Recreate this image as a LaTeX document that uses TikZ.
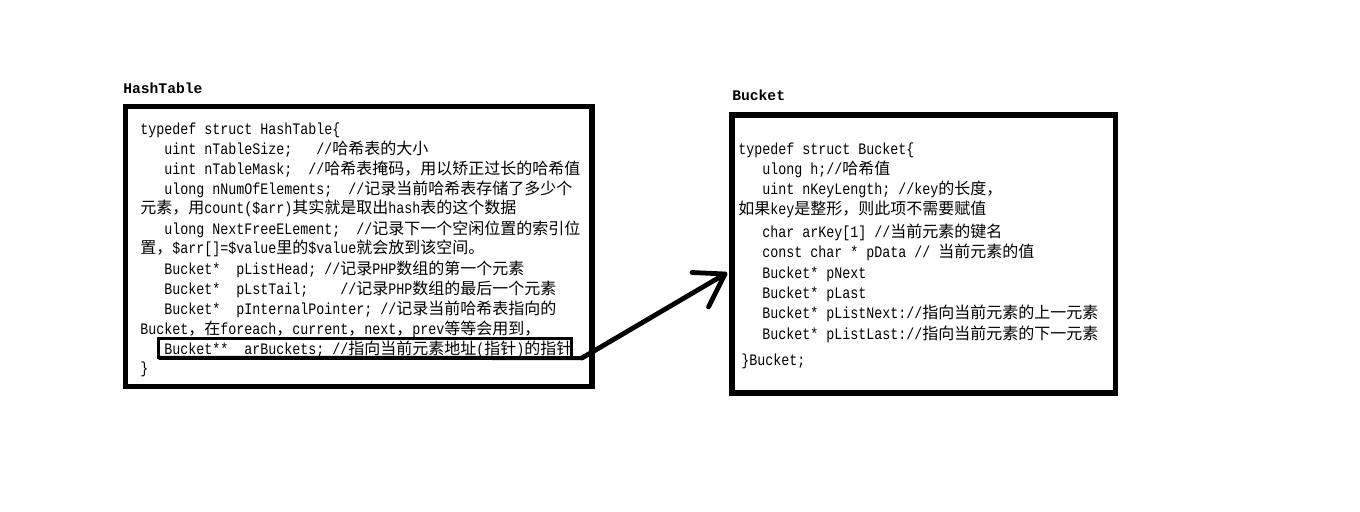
\documentclass[tikz,border=0pt]{standalone}
\usepackage{fontspec}
\setmainfont{Liberation Mono}[FakeStretch=0.8333]
\newfontfamily\cjk{Noto Sans CJK SC}
\newfontfamily\ttlfont{Liberation Mono}
\newcommand\zh[1]{{\cjk #1}}
\begin{document}
\begin{tikzpicture}[x=0.75pt,y=-0.75pt,
  box/.style={draw,line width=4pt,outer sep=0pt,inner sep=0pt,anchor=north west},
  hlbox/.style={draw,line width=2.25pt,outer sep=0pt,inner sep=0pt,anchor=north west},
  code/.style={inner sep=0pt,anchor=base west,font=\fontsize{12pt}{15pt}\selectfont},
  ttl/.style={inner sep=0pt,anchor=base west,font=\ttlfont\bfseries\fontsize{11pt}{13pt}\selectfont},
  fat/.style={line width=3.6pt,line cap=round,line join=round}]
\useasboundingbox[fill=white] (0,0) rectangle (1360,511);

% titles
\node[ttl] (httitle) at (123,93) {HashTable};
\node[ttl] (bktitle) at (732,100) {Bucket};

% boxes
\node[box,minimum width=349.9pt,minimum height=210pt] (htbox) at (125.5,106.7) {};
\node[box,minimum width=287.6pt,minimum height=208.5pt] (bkbox) at (732,115) {};

% HashTable text
\node[code] (ht0) at (140,134) {typedef struct HashTable\{};
\node[code] (ht1) at (164,154) {uint nTableSize;~~~//\zh{哈希表的大小}};
\node[code] (ht2) at (164,174) {uint nTableMask;~~//\zh{哈希表掩码，用以矫正过长的哈希值}};
\node[code] (ht3) at (164,194) {ulong nNumOfElements;~~//\zh{记录当前哈希表存储了多少个}};
\node[code] (ht4) at (140,213) {\zh{元素，用}count(\$arr)\zh{其实就是取出}hash\zh{表的这个数据}};
\node[code] (ht5) at (164,234) {ulong NextFreeELement;~~//\zh{记录下一个空闲位置的索引位}};
\node[code] (ht6) at (140,253) {\zh{置，}\$arr[]=\$value\zh{里的}\$value\zh{就会放到该空间。}};
\node[code] (ht7) at (164,274) {Bucket*~~pListHead;~//\zh{记录}PHP\zh{数组的第一个元素}};
\node[code] (ht8) at (164,294) {Bucket*~~pLstTail;~~~~//\zh{记录}PHP\zh{数组的最后一个元素}};
\node[code] (ht9) at (164,314) {Bucket*~~pInternalPointer;~//\zh{记录当前哈希表指向的}};
\node[code] (ht10) at (140,334) {Bucket\zh{，在}foreach\zh{，}current\zh{，}next\zh{，}prev\zh{等等会用到，}};
\node[code] (ht11) at (164,354) {Bucket**~~arBuckets;~//\zh{指向当前元素地址}(\zh{指针})\zh{的指针}};
\node[code] (ht12) at (140,373) {\}};

% highlight box around arBuckets
\node[hlbox,minimum width=309.75pt,minimum height=14.6pt] (hl) at (158.5,338.5) {};

% Bucket text
\node[code] (bk0) at (738,154) {typedef struct Bucket\{};
\node[code] (bk1) at (762,174) {ulong h;//\zh{哈希值}};
\node[code] (bk2) at (762,194) {uint nKeyLength;~//key\zh{的长度，}};
\node[code] (bk3) at (738,214) {\zh{如果}key\zh{是整形，则此项不需要赋值}};
\node[code] (bk4) at (762,237) {char arKey[1]~//\zh{当前元素的键名}};
\node[code] (bk5) at (762,257) {const char * pData //~\zh{当前元素的值}};
\node[code] (bk6) at (762,278) {Bucket* pNext};
\node[code] (bk7) at (762,298) {Bucket* pLast};
\node[code] (bk8) at (762,318) {Bucket* pListNext://\zh{指向当前元素的上一元素}};
\node[code] (bk9) at (762,339) {Bucket* pListLast://\zh{指向当前元素的下一元素}};
\node[code] (bk10) at (741,365) {\}Bucket;};

% arrow
\coordinate (bend) at (582,358);
\coordinate (tip) at (725,274);
\coordinate (headA) at (692,272.5);
\coordinate (headB) at (708.5,307);
\draw[line width=3pt] (hl.south west) -- (bend);
\draw[fat] (bend) -- (tip);
\draw[fat] (headA) -- (tip) -- (headB);
\end{tikzpicture}
\end{document}
